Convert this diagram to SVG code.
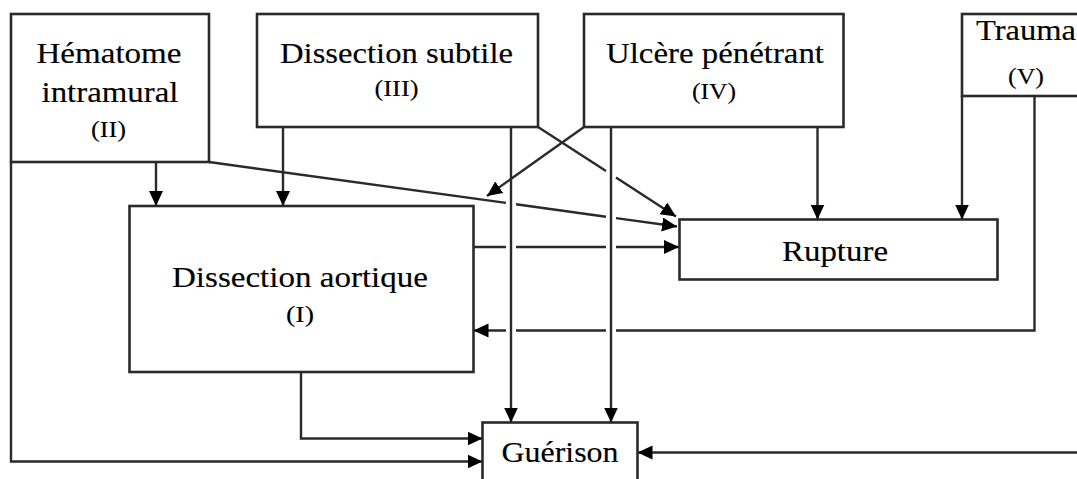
<svg xmlns="http://www.w3.org/2000/svg" width="1077" height="479" viewBox="0 0 1077 479">
<style>
.box{fill:#fff;stroke:#2a2a2a;stroke-width:2.6}
.ln{fill:none;stroke:#2a2a2a;stroke-width:2.4}
.t{font-family:"Liberation Serif","Times New Roman",serif;font-size:30px;fill:#000;stroke:#000;stroke-width:0.15;text-anchor:middle}
.s{font-family:"Liberation Serif","Times New Roman",serif;font-size:24px;fill:#000;stroke:#000;stroke-width:0.12;text-anchor:middle}
</style>
<defs>
<marker id="ah" markerUnits="userSpaceOnUse" markerWidth="16" markerHeight="15" refX="15" refY="7" orient="auto">
<path d="M0,0 L15,7 L0,14 z" fill="#000"/>
</marker>
</defs>
<rect width="1077" height="479" fill="#fff"/>

<g id="connectors">
<path class="ln" d="M156,162 L156,206" marker-end="url(#ah)"/>
<path class="ln" d="M283,127 L283,206" marker-end="url(#ah)"/>
<path class="ln" d="M11,162 L11,461.5 L482.5,461.5" marker-end="url(#ah)"/>
<path class="ln" d="M301,372 L301,438.5 L482.5,438.5" marker-end="url(#ah)"/>
<path class="ln" d="M209,162 L506,202.9 M516,204.3 L606,216.7 M616,218.1 L677,226.5" marker-end="url(#ah)"/>
<path class="ln" d="M538,127 L606,171.1 M616,177.6 L676,216.5" marker-end="url(#ah)"/>
<path class="ln" d="M584,127 L487,196" marker-end="url(#ah)"/>
<path class="ln" d="M473.5,247 L506,247 M516,247 L606,247 M616,247 L679,247" marker-end="url(#ah)"/>
<path class="ln" d="M1034.5,96 L1034.5,330.5 L616,330.5 M606,330.5 L516,330.5 M506,330.5 L473.5,330.5" marker-end="url(#ah)"/>
<path class="ln" d="M511,127 L511,422.5" marker-end="url(#ah)"/>
<path class="ln" d="M611,127 L611,422.5" marker-end="url(#ah)"/>
<path class="ln" d="M817.5,127 L817.5,219.5" marker-end="url(#ah)"/>
<path class="ln" d="M962,96 L962,219.5" marker-end="url(#ah)"/>
<path class="ln" d="M1077,452.5 L637.5,452.5" marker-end="url(#ah)"/>
</g>

<g id="hematome">
<rect class="box" x="11" y="14" width="198" height="148"/>
<text class="t" x="109" y="62.7" textLength="145" lengthAdjust="spacingAndGlyphs">Hématome</text>
<text class="t" x="110" y="101.7" textLength="137" lengthAdjust="spacingAndGlyphs">intramural</text>
<text class="s" x="108.5" y="137" textLength="35" lengthAdjust="spacingAndGlyphs">(II)</text>
</g>

<g id="dissection-subtile">
<rect class="box" x="257" y="14" width="281" height="113"/>
<text class="t" x="396.5" y="63.3" textLength="233" lengthAdjust="spacingAndGlyphs">Dissection subtile</text>
<text class="s" x="396.5" y="96" textLength="44" lengthAdjust="spacingAndGlyphs">(III)</text>
</g>

<g id="ulcere">
<rect class="box" x="584" y="14" width="259.5" height="113"/>
<text class="t" x="715" y="63.3" textLength="218" lengthAdjust="spacingAndGlyphs">Ulcère pénétrant</text>
<text class="s" x="714" y="99" textLength="44" lengthAdjust="spacingAndGlyphs">(IV)</text>
</g>

<g id="trauma">
<rect class="box" x="962" y="14" width="140" height="82"/>
<text class="t" x="1026" y="40" textLength="100" lengthAdjust="spacingAndGlyphs">Trauma</text>
<text class="s" x="1026" y="84" textLength="36" lengthAdjust="spacingAndGlyphs">(V)</text>
</g>

<g id="dissection-aortique">
<rect class="box" x="129.5" y="206" width="344" height="166"/>
<text class="t" x="300" y="287" textLength="256" lengthAdjust="spacingAndGlyphs">Dissection aortique</text>
<text class="s" x="300" y="321.5" textLength="28" lengthAdjust="spacingAndGlyphs">(I)</text>
</g>

<g id="rupture">
<rect class="box" x="679.5" y="219.5" width="318" height="60"/>
<text class="t" x="835" y="260.7" textLength="106" lengthAdjust="spacingAndGlyphs">Rupture</text>
</g>

<g id="guerison">
<rect class="box" x="482.5" y="422.5" width="155" height="70"/>
<text class="t" x="560" y="462.3" textLength="117" lengthAdjust="spacingAndGlyphs">Guérison</text>
</g>
</svg>
